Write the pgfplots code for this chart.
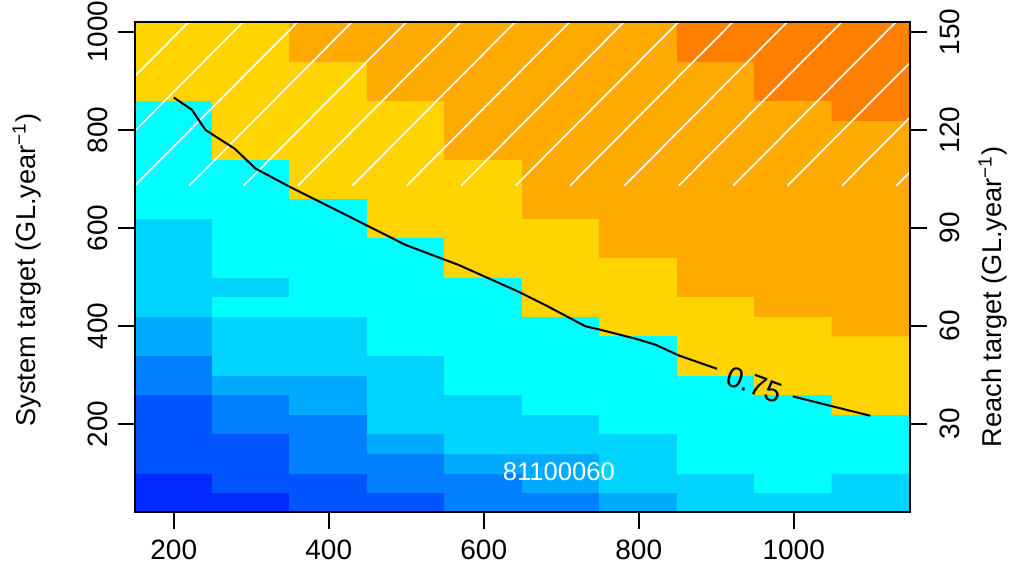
\documentclass[border=0pt]{standalone}
\usepackage{fontspec}
\setmainfont{Liberation Sans}
\usepackage{pgfplots}
\pgfplotsset{compat=1.18}

\pgfplotsset{
  rbase/.style={
    at={(67.5pt,33pt)}, anchor=south west,
    scale only axis, width=387.5pt, height=245pt,
    xmin=150, xmax=1150, clip=false,
    tick align=outside, major tick length=8.5pt,
    every axis/.append style={line width=0.8pt},
    tick style={black, line width=1pt},
    /pgf/number format/assume math mode=true,
    /pgf/number format/1000 sep={},
    tick label style={font=\fontsize{14}{16}\selectfont},
    label style={font=\fontsize{13.6}{16}\selectfont},
  },
}

\begin{document}
\begin{tikzpicture}
\useasboundingbox (0,0) rectangle (507pt,289pt);
\begin{axis}[
  rbase,
  ymin=20, ymax=1020,
  xtick={200,400,...,1000}, ytick={200,400,...,1000},
  xtick pos=left, ytick pos=left,
  xticklabel style={yshift=-1.5pt},
  yticklabel style={rotate=90, anchor=south, yshift=1.5pt},
  ylabel={System target (GL.year\textsuperscript{−1})},
  ylabel style={at={(axis description cs:0,0.4939)}, yshift=54pt, anchor=center},
  colormap access=direct,
  colormap={heat}{rgb255=(0,42,255) rgb255=(0,85,255) rgb255=(0,128,255)
    rgb255=(0,170,255) rgb255=(0,212,255) rgb255=(0,255,255)
    rgb255=(255,212,0) rgb255=(255,170,0) rgb255=(255,128,0)},
  axis on top,
]
% grid of cells, index into colormap
\addplot[matrix plot*, mesh/cols=10, mesh/rows=25, point meta=explicit] coordinates {
(200,40)[0] (300,40)[0] (400,40)[1] (500,40)[1] (600,40)[2] (700,40)[2] (800,40)[3] (900,40)[4] (1000,40)[4] (1100,40)[4]
(200,80)[0] (300,80)[1] (400,80)[1] (500,80)[2] (600,80)[2] (700,80)[3] (800,80)[4] (900,80)[4] (1000,80)[5] (1100,80)[4]
(200,120)[1] (300,120)[1] (400,120)[2] (500,120)[2] (600,120)[3] (700,120)[3] (800,120)[4] (900,120)[5] (1000,120)[5] (1100,120)[5]
(200,160)[1] (300,160)[1] (400,160)[2] (500,160)[3] (600,160)[4] (700,160)[4] (800,160)[4] (900,160)[5] (1000,160)[5] (1100,160)[5]
(200,200)[1] (300,200)[2] (400,200)[2] (500,200)[4] (600,200)[4] (700,200)[4] (800,200)[5] (900,200)[5] (1000,200)[5] (1100,200)[5]
(200,240)[1] (300,240)[2] (400,240)[3] (500,240)[4] (600,240)[4] (700,240)[5] (800,240)[5] (900,240)[5] (1000,240)[5] (1100,240)[6]
(200,280)[2] (300,280)[3] (400,280)[3] (500,280)[4] (600,280)[5] (700,280)[5] (800,280)[5] (900,280)[5] (1000,280)[6] (1100,280)[6]
(200,320)[2] (300,320)[4] (400,320)[4] (500,320)[4] (600,320)[5] (700,320)[5] (800,320)[5] (900,320)[6] (1000,320)[6] (1100,320)[6]
(200,360)[3] (300,360)[4] (400,360)[4] (500,360)[5] (600,360)[5] (700,360)[5] (800,360)[5] (900,360)[6] (1000,360)[6] (1100,360)[6]
(200,400)[3] (300,400)[4] (400,400)[4] (500,400)[5] (600,400)[5] (700,400)[5] (800,400)[6] (900,400)[6] (1000,400)[6] (1100,400)[7]
(200,440)[4] (300,440)[5] (400,440)[5] (500,440)[5] (600,440)[5] (700,440)[6] (800,440)[6] (900,440)[6] (1000,440)[7] (1100,440)[7]
(200,480)[4] (300,480)[4] (400,480)[5] (500,480)[5] (600,480)[5] (700,480)[6] (800,480)[6] (900,480)[7] (1000,480)[7] (1100,480)[7]
(200,520)[4] (300,520)[5] (400,520)[5] (500,520)[5] (600,520)[6] (700,520)[6] (800,520)[6] (900,520)[7] (1000,520)[7] (1100,520)[7]
(200,560)[4] (300,560)[5] (400,560)[5] (500,560)[5] (600,560)[6] (700,560)[6] (800,560)[7] (900,560)[7] (1000,560)[7] (1100,560)[7]
(200,600)[4] (300,600)[5] (400,600)[5] (500,600)[6] (600,600)[6] (700,600)[6] (800,600)[7] (900,600)[7] (1000,600)[7] (1100,600)[7]
(200,640)[5] (300,640)[5] (400,640)[5] (500,640)[6] (600,640)[6] (700,640)[7] (800,640)[7] (900,640)[7] (1000,640)[7] (1100,640)[7]
(200,680)[5] (300,680)[5] (400,680)[6] (500,680)[6] (600,680)[6] (700,680)[7] (800,680)[7] (900,680)[7] (1000,680)[7] (1100,680)[7]
(200,720)[5] (300,720)[5] (400,720)[6] (500,720)[6] (600,720)[6] (700,720)[7] (800,720)[7] (900,720)[7] (1000,720)[7] (1100,720)[7]
(200,760)[5] (300,760)[6] (400,760)[6] (500,760)[6] (600,760)[7] (700,760)[7] (800,760)[7] (900,760)[7] (1000,760)[7] (1100,760)[7]
(200,800)[5] (300,800)[6] (400,800)[6] (500,800)[6] (600,800)[7] (700,800)[7] (800,800)[7] (900,800)[7] (1000,800)[7] (1100,800)[7]
(200,840)[5] (300,840)[6] (400,840)[6] (500,840)[6] (600,840)[7] (700,840)[7] (800,840)[7] (900,840)[7] (1000,840)[7] (1100,840)[8]
(200,880)[6] (300,880)[6] (400,880)[6] (500,880)[7] (600,880)[7] (700,880)[7] (800,880)[7] (900,880)[7] (1000,880)[8] (1100,880)[8]
(200,920)[6] (300,920)[6] (400,920)[6] (500,920)[7] (600,920)[7] (700,920)[7] (800,920)[7] (900,920)[7] (1000,920)[8] (1100,920)[8]
(200,960)[6] (300,960)[6] (400,960)[7] (500,960)[7] (600,960)[7] (700,960)[7] (800,960)[7] (900,960)[8] (1000,960)[8] (1100,960)[8]
(200,1000)[6] (300,1000)[6] (400,1000)[7] (500,1000)[7] (600,1000)[7] (700,1000)[7] (800,1000)[7] (900,1000)[8] (1000,1000)[8] (1100,1000)[8]
};
% hatching of the upper band (segments end on the frame)
\addplot[white, line width=0.8pt, unbounded coords=jump] coordinates {
(150,909.7) (219.4,1020) (150,nan)
(150,798.1) (289.6,1020) (150,nan)
(150,686.5) (359.8,1020) (150,nan)
(219.9,686) (430.0,1020) (219.9,nan)
(290.1,686) (500.2,1020) (290.1,nan)
(360.3,686) (570.4,1020) (360.3,nan)
(430.5,686) (640.6,1020) (430.5,nan)
(500.7,686) (710.8,1020) (500.7,nan)
(570.9,686) (781.0,1020) (570.9,nan)
(641.1,686) (851.2,1020) (641.1,nan)
(711.3,686) (921.4,1020) (711.3,nan)
(781.5,686) (991.6,1020) (781.5,nan)
(851.7,686) (1061.8,1020) (851.7,nan)
(921.9,686) (1132.0,1020) (921.9,nan)
(992.1,686) (1150,937.0) (992.1,nan)
(1062.3,686) (1150,825.4) (1062.3,nan)
(1132.5,686) (1150,713.8)
};
% 0.75 contour
\addplot[black, line width=1pt] coordinates {
(200,866) (223.6,840.6) (240.9,799.6) (278.7,761.4) (305.4,721.0) (348.4,684.7)
(404.3,640.4) (447.4,606.2) (499,565.1) (567.7,524.1) (645.2,469.3) (683.9,438.6)
(731.2,399.0) (748.4,392.8) (795.7,373.7) (821.5,361.4) (851.6,339.5) (901,312.2)
};
\addplot[black, line width=1pt] coordinates {(998.7,256.0) (1098.9,216.4)};
% outward tick marks, 8.5pt long (bottom, left and right)
\addplot[black, line width=1pt, unbounded coords=jump] coordinates {
(200,20) (200,-14.9) (200,nan)
(400,20) (400,-14.9) (400,nan)
(600,20) (600,-14.9) (600,nan)
(800,20) (800,-14.9) (800,nan)
(1000,20) (1000,-14.9) (1000,nan)
(150,200) (128.1,200) (150,nan)
(150,400) (128.1,400) (150,nan)
(150,600) (128.1,600) (150,nan)
(150,800) (128.1,800) (150,nan)
(150,1000) (128.1,1000) (150,nan)
(1150,200) (1171.9,200) (1150,nan)
(1150,400) (1171.9,400) (1150,nan)
(1150,600) (1171.9,600) (1150,nan)
(1150,800) (1171.9,800) (1150,nan)
(1150,1000) (1171.9,1000)
};
\node[rotate=-20, font=\fontsize{14.5}{16}\selectfont] at (axis cs:949.7,280) {0.75};
\node[white, font=\fontsize{12.8}{15}\selectfont] at (axis cs:697,101.5) {81100060};
\end{axis}
\begin{axis}[
  rbase,
  ymin=3, ymax=153,
  axis x line=none, axis y line*=right,
  ytick={30,60,...,150},
  yticklabel style={rotate=90, anchor=north, yshift=-2.5pt},
  ylabel={Reach target (GL.year\textsuperscript{−1})},
  ylabel style={at={(axis description cs:1,0.4388)}, yshift=-41.5pt, anchor=center},
]
\addplot[draw=none] coordinates {(150,3) (1150,153)};
\end{axis}
\end{tikzpicture}
\end{document}
